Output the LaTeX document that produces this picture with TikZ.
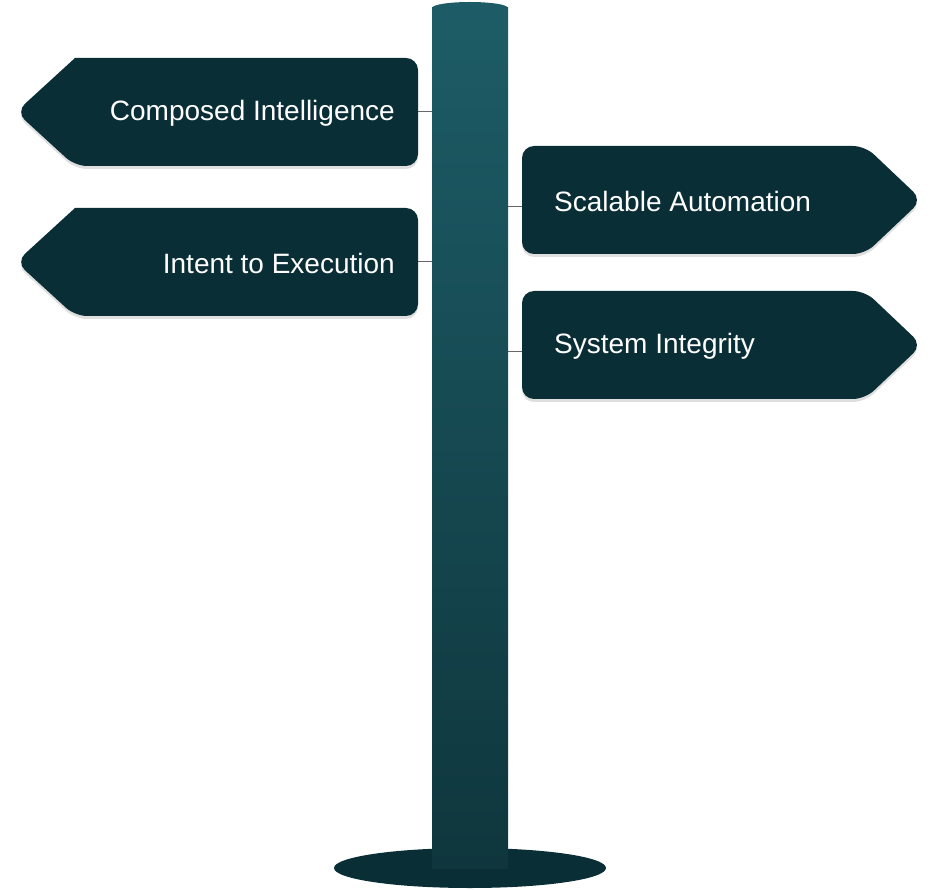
\documentclass[tikz,border=0pt]{standalone}
\usepackage{fontspec}
\setmainfont{Liberation Sans}
\usetikzlibrary{shadows}
\definecolor{sign}{HTML}{0A2E36}
\definecolor{poletop}{HTML}{1D5C66}
\definecolor{polebot}{HTML}{0F363D}
\begin{document}
\begin{tikzpicture}[x=1pt,y=-1pt,
  signshape/.style={fill=sign,rounded corners=12pt,drop shadow={shadow xshift=0pt,shadow yshift=-3pt,opacity=0.25}},
  lbl/.style={text=white,font=\fontsize{28}{30}\selectfont,inner sep=0pt},
  tick/.style={draw=black!60,line width=1pt}]
\useasboundingbox (0,0) rectangle (940,890);
% base
\fill[sign] (470,868) ellipse [x radius=136,y radius=20];
% pole
\shade[top color=poletop,bottom color=polebot] (432,8) rectangle (508,868);
\fill[poletop] (470,8) ellipse [x radius=38,y radius=6];
% ticks
\coordinate (pl) at (432,0); \coordinate (pr) at (508,0);
% left signs
\foreach \n/\y/\t in {a/112/Composed Intelligence,b/262/Intent to Execution}{
  \path[signshape] (75,\y-54) -- (418,\y-54) -- (418,\y+54) -- (75,\y+54) -- (16,\y) [sharp corners]-- cycle;
  \coordinate (\n) at (418,\y);
  \draw[tick] (\n) -- (pl|-\n);
  \node[lbl,anchor=east] (t\n) at (395,\y+1) {\t};
}
% right signs
\foreach \n/\y/\t in {c/200/Scalable Automation,d/345/System Integrity}{
  \path[signshape] (522,\y-54) -- (865,\y-54) -- (922,\y) -- (865,\y+54) -- (522,\y+54) -- cycle;
  \coordinate (\n) at (522,\y+7);
  \draw[tick] (\n) -- (pr|-\n);
  \node[lbl,anchor=west] (t\n) at (554,\y+1) {\t};
}
\end{tikzpicture}
\end{document}
